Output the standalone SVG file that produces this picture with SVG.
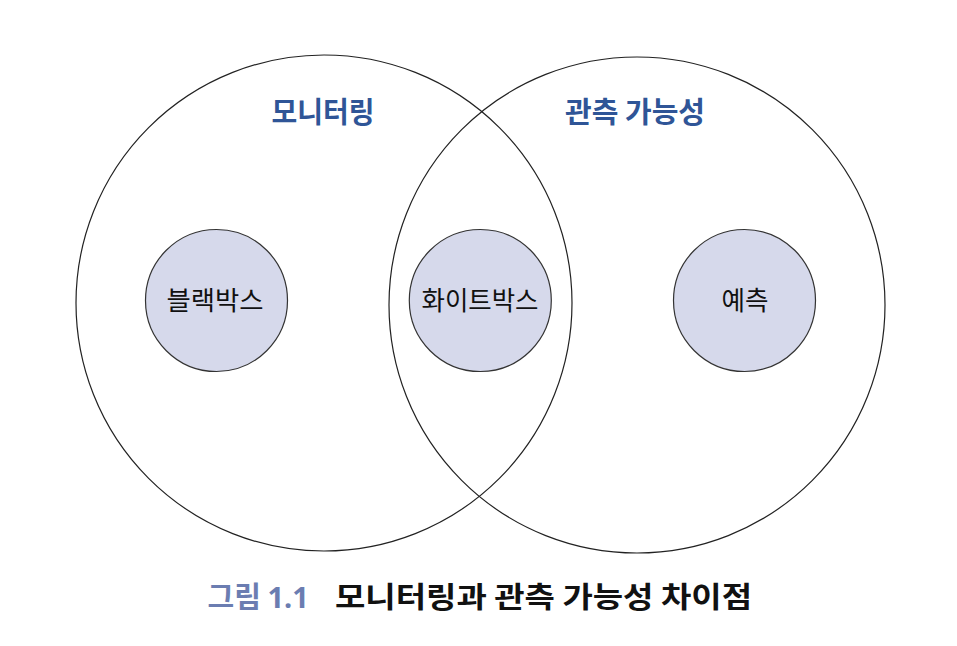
<svg xmlns="http://www.w3.org/2000/svg" width="957" height="646" viewBox="0 0 957 646">
<style>
.big{fill:none;stroke:#222;stroke-width:1.2}
.small{fill:#D6D9EB;stroke:#333;stroke-width:1.2}
.lbl{font-family:"Noto Sans CJK KR","Noto Sans",sans-serif;font-size:26px;fill:#111;text-anchor:middle}
.ttl{font-family:"Noto Sans CJK KR","Noto Sans",sans-serif;font-size:29px;font-weight:bold;fill:#2F5597;text-anchor:middle}
.cap{font-family:"Noto Sans CJK KR","Noto Sans",sans-serif;font-size:29px;font-weight:bold}
.num{font-family:"Noto Sans","Open Sans",sans-serif}
</style>
<rect width="957" height="646" fill="#fff"/>
<g id="monitoring">
<circle class="big" cx="324" cy="303" r="248"/>
<text class="ttl" x="323" y="123" textLength="103" lengthAdjust="spacingAndGlyphs">모니터링</text>
</g>
<g id="observability">
<circle class="big" cx="637" cy="305" r="248"/>
<text class="ttl" x="635" y="123" textLength="140" lengthAdjust="spacingAndGlyphs">관측 가능성</text>
</g>
<g id="blackbox">
<circle class="small" cx="216.5" cy="300.5" r="71"/>
<text class="lbl" x="215" y="310" textLength="97" lengthAdjust="spacingAndGlyphs">블랙박스</text>
</g>
<g id="whitebox">
<circle class="small" cx="480.3" cy="300.5" r="71"/>
<text class="lbl" x="480" y="310" textLength="117" lengthAdjust="spacingAndGlyphs">화이트박스</text>
</g>
<g id="prediction">
<circle class="small" cx="744.5" cy="300.5" r="71"/>
<text class="lbl" x="745" y="310" textLength="47" lengthAdjust="spacingAndGlyphs">예측</text>
</g>
<g id="connectors"></g>
<g id="caption">
<text class="cap" x="207.5" y="608" fill="#6B7DB1">그림 <tspan class="num">1.1</tspan></text>
<text class="cap" x="335" y="608" fill="#111" textLength="417" lengthAdjust="spacingAndGlyphs">모니터링과 관측 가능성 차이점</text>
</g>
</svg>
